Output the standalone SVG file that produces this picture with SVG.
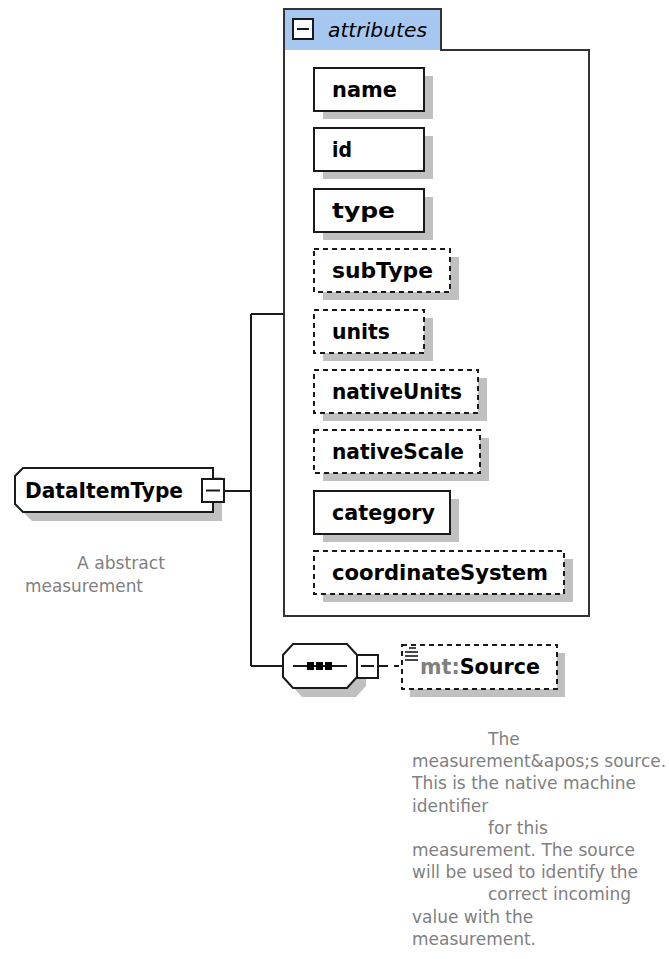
<svg xmlns="http://www.w3.org/2000/svg" width="669" height="959" viewBox="0 0 669 959">
  <style>
    .box { fill: #ffffff; stroke: #1a1a1a; stroke-width: 2; }
    .opt { fill: #ffffff; stroke: #1a1a1a; stroke-width: 2; stroke-dasharray: 5 4; }
    .shadow { fill: #c0c0c0; stroke: none; }
    .label { font-family: "DejaVu Sans", "Liberation Sans", sans-serif; font-weight: bold; font-size: 21px; fill: #000000; }
    .gray { fill: #808080; }
    .doc { font-family: "DejaVu Sans", "Liberation Sans", sans-serif; font-size: 17px; fill: #808080; }
    .wire { fill: none; stroke: #1a1a1a; stroke-width: 2; }
  </style>

  <!-- connectors -->
  <g id="connectors">
    <path class="wire" d="M224,491 H251 M251,314 V666 M251,314 H284 M251,666 H283"/>
    <path class="wire" d="M378,666 H388"/>
    <path class="wire" d="M394,666 H402" stroke-dasharray="5 4"/>
  </g>

  <!-- attribute group container -->
  <g id="attributes">
    <path d="M284,9 H441 V50 H589 V616 H284 Z" fill="#ffffff" stroke="#333333" stroke-width="2"/>
    <rect x="285" y="10" width="155" height="40" fill="#a6c8f0"/>
    <rect x="293" y="19" width="20" height="20" fill="#ffffff" stroke="#1a1a1a" stroke-width="2"/>
    <line x1="297" y1="29" x2="309" y2="29" stroke="#1a1a1a" stroke-width="2"/>
    <text x="328" y="37" font-family="DejaVu Sans, Liberation Sans, sans-serif" font-style="italic" font-size="20" fill="#000000" textLength="99" lengthAdjust="spacingAndGlyphs">attributes</text>
  </g>

  <g id="attr-name">
    <rect class="shadow" x="323" y="76" width="110" height="43"/>
    <rect class="box" x="314" y="68" width="110" height="43"/>
    <text class="label" x="332" y="97" textLength="65" lengthAdjust="spacingAndGlyphs">name</text>
  </g>
  <g id="attr-id">
    <rect class="shadow" x="323" y="136" width="110" height="43"/>
    <rect class="box" x="314" y="128" width="110" height="43"/>
    <text class="label" x="332" y="157" textLength="20" lengthAdjust="spacingAndGlyphs">id</text>
  </g>
  <g id="attr-type">
    <rect class="shadow" x="323" y="197" width="110" height="43"/>
    <rect class="box" x="314" y="189" width="110" height="43"/>
    <text class="label" x="332" y="218" textLength="63" lengthAdjust="spacingAndGlyphs">type</text>
  </g>
  <g id="attr-subType">
    <rect class="shadow" x="323" y="257" width="136" height="43"/>
    <rect class="opt" x="314" y="249" width="136" height="43"/>
    <text class="label" x="332" y="278" textLength="101" lengthAdjust="spacingAndGlyphs">subType</text>
  </g>
  <g id="attr-units">
    <rect class="shadow" x="323" y="318" width="110" height="43"/>
    <rect class="opt" x="314" y="310" width="110" height="43"/>
    <text class="label" x="332" y="339" textLength="58" lengthAdjust="spacingAndGlyphs">units</text>
  </g>
  <g id="attr-nativeUnits">
    <rect class="shadow" x="323" y="378" width="164" height="43"/>
    <rect class="opt" x="314" y="370" width="164" height="43"/>
    <text class="label" x="332" y="399" textLength="130" lengthAdjust="spacingAndGlyphs">nativeUnits</text>
  </g>
  <g id="attr-nativeScale">
    <rect class="shadow" x="323" y="438" width="166" height="43"/>
    <rect class="opt" x="314" y="430" width="166" height="43"/>
    <text class="label" x="332" y="459" textLength="132" lengthAdjust="spacingAndGlyphs">nativeScale</text>
  </g>
  <g id="attr-category">
    <rect class="shadow" x="323" y="499" width="136" height="43"/>
    <rect class="box" x="314" y="491" width="136" height="43"/>
    <text class="label" x="332" y="520" textLength="103" lengthAdjust="spacingAndGlyphs">category</text>
  </g>
  <g id="attr-coordinateSystem">
    <rect class="shadow" x="323" y="559" width="250" height="43"/>
    <rect class="opt" x="314" y="551" width="250" height="43"/>
    <text class="label" x="332" y="580" textLength="216" lengthAdjust="spacingAndGlyphs">coordinateSystem</text>
  </g>

  <!-- complex type node -->
  <g id="DataItemType">
    <path class="shadow" d="M32,477 H222 V521 H32 L24,513 V486 Z"/>
    <path class="box" d="M23,468 H213 V512 H23 L15,504 V476 Z"/>
    <text class="label" x="25" y="498" textLength="158" lengthAdjust="spacingAndGlyphs">DataItemType</text>
    <rect class="box" x="202" y="479" width="22" height="23"/>
    <line x1="206" y1="490.5" x2="220" y2="490.5" stroke="#1a1a1a" stroke-width="2"/>
    <text class="doc" x="77" y="569" textLength="88" lengthAdjust="spacingAndGlyphs">A abstract</text>
    <text class="doc" x="25" y="592" textLength="118" lengthAdjust="spacingAndGlyphs">measurement</text>
  </g>

  <!-- sequence compositor -->
  <g id="sequence">
    <path class="shadow" d="M302,653 H356 L366,664 V686 L356,697 H302 L292,686 V664 Z"/>
    <path class="box" d="M293,644 H347 L357,655 V677 L347,688 H293 L283,677 V655 Z"/>
    <line x1="293" y1="666" x2="347" y2="666" stroke="#1a1a1a" stroke-width="2"/>
    <rect x="307" y="662" width="7" height="8" fill="#000000"/>
    <rect x="316" y="662" width="7" height="8" fill="#000000"/>
    <rect x="325" y="662" width="7" height="8" fill="#000000"/>
    <rect class="box" x="357" y="655" width="21" height="23"/>
    <line x1="361" y1="666" x2="374" y2="666" stroke="#1a1a1a" stroke-width="2"/>
  </g>

  <!-- element reference -->
  <g id="mt-Source">
    <rect class="shadow" x="410" y="653" width="155" height="44"/>
    <rect class="opt" x="402" y="645" width="155" height="44"/>
    <g stroke="#1a1a1a" stroke-width="1.6">
      <line x1="409" y1="648" x2="416" y2="648"/>
      <line x1="405" y1="652" x2="418" y2="652"/>
      <line x1="405" y1="656" x2="418" y2="656"/>
      <line x1="405" y1="660" x2="418" y2="660"/>
    </g>
    <text class="label" x="420" y="674" textLength="120" lengthAdjust="spacingAndGlyphs"><tspan class="gray">mt:</tspan>Source</text>
    <text class="doc">
      <tspan x="488" y="745">The</tspan>
      <tspan x="412" y="767">measurement&amp;apos;s source.</tspan>
      <tspan x="412" y="789">This is the native machine</tspan>
      <tspan x="412" y="812">identifier</tspan>
      <tspan x="488" y="834">for this</tspan>
      <tspan x="412" y="856">measurement. The source</tspan>
      <tspan x="412" y="878">will be used to identify the</tspan>
      <tspan x="488" y="900">correct incoming</tspan>
      <tspan x="412" y="923">value with the</tspan>
      <tspan x="412" y="945">measurement.</tspan>
    </text>
  </g>
</svg>
